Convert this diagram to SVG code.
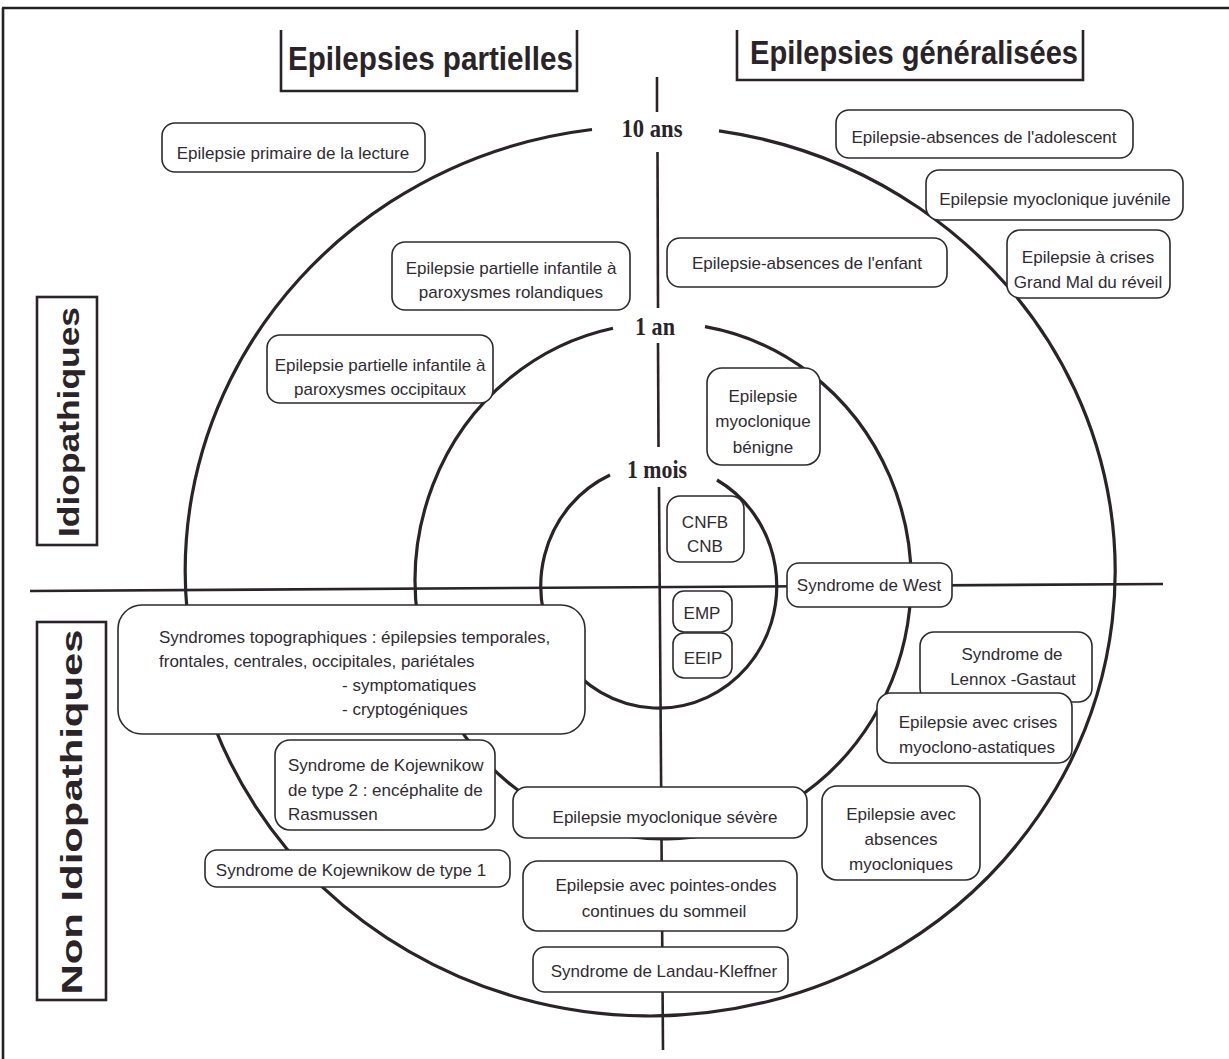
<svg xmlns="http://www.w3.org/2000/svg" width="1229" height="1059" viewBox="0 0 1229 1059">
<style>
.ring{fill:none;stroke:#2a2428;stroke-width:3.2}
.axis{fill:none;stroke:#2a2428;stroke-width:2.6}
.frame{fill:none;stroke:#222;stroke-width:2.6}
.box{fill:#fff;stroke:#2e2a2e;stroke-width:1.6}
.hdr{fill:none;stroke:#2a2428;stroke-width:2.6}
.t{font-family:"Liberation Sans",Arial,sans-serif;font-size:17px;fill:#2f2b33;text-anchor:middle}
.tl{font-family:"Liberation Sans",Arial,sans-serif;font-size:17px;fill:#2f2b33;text-anchor:start}
.h{font-family:"Liberation Sans",Arial,sans-serif;font-weight:bold;font-size:33px;fill:#2a2428}
.v{font-family:"Liberation Sans",Arial,sans-serif;font-weight:bold;font-size:30px;fill:#2a2428;text-anchor:middle}
.age{font-family:"Liberation Serif","Times New Roman",serif;font-weight:bold;font-size:25px;fill:#2a2428;text-anchor:middle}
</style>
<rect x="0" y="0" width="1229" height="1059" fill="#fff"/>
<g id="frame">
<line class="frame" x1="2" y1="8" x2="1229" y2="8"/>
<line class="frame" x1="3" y1="8" x2="3" y2="1059"/>
</g>
<g id="connectors">
<path class="ring" d="M592 129.5 A465 445 0 1 0 719 130.9"/>
<path class="ring" d="M613 328.3 A248 258 0 1 0 705 326.7"/>
<path class="ring" d="M610 475 A118 122 0 1 0 717 480"/>
<line class="axis" x1="657" y1="77" x2="657" y2="112"/>
<line class="axis" x1="657.5" y1="152" x2="658" y2="308"/>
<line class="axis" x1="658" y1="343" x2="658.5" y2="447"/>
<line class="axis" x1="659" y1="487" x2="663" y2="1050"/>
<line class="axis" x1="30" y1="591" x2="1163" y2="584"/>
</g>
<g id="ages">
<text class="age" x="652" y="137" textLength="61" lengthAdjust="spacingAndGlyphs">10 ans</text>
<text class="age" x="655" y="335" textLength="40" lengthAdjust="spacingAndGlyphs">1 an</text>
<text class="age" x="657" y="478" textLength="60" lengthAdjust="spacingAndGlyphs">1 mois</text>
</g>
<g id="hdr-partielles">
<path class="hdr" d="M281 30 V91 H577 V30"/>
<text class="h" x="288" y="70" textLength="285" lengthAdjust="spacingAndGlyphs">Epilepsies partielles</text>
</g>
<g id="hdr-generalisees">
<path class="hdr" d="M737 30 V80 H1083 V30"/>
<text class="h" x="750" y="64" textLength="328" lengthAdjust="spacingAndGlyphs">Epilepsies généralisées</text>
</g>
<g id="lbl-idiopathiques">
<rect class="hdr" x="37" y="297" width="60" height="248"/>
<text class="v" transform="translate(79 422) rotate(-90)" textLength="230" lengthAdjust="spacingAndGlyphs">Idiopathiques</text>
</g>
<g id="lbl-non-idiopathiques">
<rect class="hdr" x="37" y="622" width="69" height="378"/>
<text class="v" transform="translate(82 812) rotate(-90)" textLength="365" lengthAdjust="spacingAndGlyphs">Non Idiopathiques</text>
</g>
<g id="n-lecture"><rect class="box" x="162" y="123" width="263" height="49" rx="13"/><text class="t" x="293" y="159">Epilepsie primaire de la lecture</text></g>
<g id="n-adolescent"><rect class="box" x="836" y="110" width="297" height="48" rx="13"/><text class="t" x="984" y="143">Epilepsie-absences de l'adolescent</text></g>
<g id="n-juvenile"><rect class="box" x="926" y="170" width="257" height="50" rx="13"/><text class="t" x="1055" y="205">Epilepsie myoclonique juvénile</text></g>
<g id="n-grandmal"><rect class="box" x="1007" y="230" width="163" height="68" rx="13"/><text class="t" x="1088" y="263">Epilepsie à crises</text><text class="t" x="1088" y="288">Grand Mal du réveil</text></g>
<g id="n-enfant"><rect class="box" x="667" y="238" width="280" height="49" rx="13"/><text class="t" x="807" y="269">Epilepsie-absences de l'enfant</text></g>
<g id="n-rolandiques"><rect class="box" x="392" y="242" width="238" height="68" rx="13"/><text class="t" x="511" y="274">Epilepsie partielle infantile à</text><text class="t" x="511" y="298">paroxysmes rolandiques</text></g>
<g id="n-occipitaux"><rect class="box" x="267" y="335" width="226" height="68" rx="13"/><text class="t" x="380" y="371">Epilepsie partielle infantile à</text><text class="t" x="380" y="395">paroxysmes occipitaux</text></g>
<g id="n-benigne"><rect class="box" x="707" y="368" width="113" height="97" rx="15"/><text class="t" x="763" y="402">Epilepsie</text><text class="t" x="763" y="427">myoclonique</text><text class="t" x="763" y="453">bénigne</text></g>
<g id="n-cnfb"><rect class="box" x="667" y="496" width="77" height="66" rx="13"/><text class="t" x="705" y="528">CNFB</text><text class="t" x="705" y="552">CNB</text></g>
<g id="n-west"><rect class="box" x="787" y="563" width="165" height="44" rx="12"/><text class="t" x="869" y="591">Syndrome de West</text></g>
<g id="n-emp"><rect class="box" x="673" y="591" width="59" height="41" rx="11"/><text class="t" x="702" y="619">EMP</text></g>
<g id="n-eeip"><rect class="box" x="673" y="633" width="59" height="45" rx="11"/><text class="t" x="703" y="664">EEIP</text></g>
<g id="n-topographiques"><rect class="box" x="118" y="605" width="467" height="129" rx="24"/>
<text class="tl" x="159" y="643">Syndromes topographiques : épilepsies temporales,</text>
<text class="tl" x="159" y="667">frontales, centrales, occipitales, pariétales</text>
<text class="tl" x="342" y="691">- symptomatiques</text>
<text class="tl" x="342" y="715">- cryptogéniques</text></g>
<g id="n-lennox"><rect class="box" x="920" y="632" width="172" height="70" rx="14"/><text class="t" x="1012" y="660">Syndrome de</text><text class="t" x="1013" y="685">Lennox -Gastaut</text></g>
<g id="n-astatiques"><rect class="box" x="877" y="693" width="195" height="70" rx="14"/><text class="t" x="978" y="728">Epilepsie avec crises</text><text class="t" x="977" y="753">myoclono-astatiques</text></g>
<g id="n-absences-myo"><rect class="box" x="822" y="786" width="158" height="94" rx="15"/><text class="t" x="901" y="820">Epilepsie avec</text><text class="t" x="901" y="845">absences</text><text class="t" x="901" y="870">myocloniques</text></g>
<g id="n-kojewnikow2"><rect class="box" x="275" y="740" width="220" height="90" rx="15"/><text class="tl" x="288" y="771">Syndrome de Kojewnikow</text><text class="tl" x="288" y="796">de type 2 : encéphalite de</text><text class="tl" x="288" y="820">Rasmussen</text></g>
<g id="n-kojewnikow1"><rect class="box" x="205" y="850" width="305" height="37" rx="12"/><text class="t" x="351" y="876">Syndrome de Kojewnikow de type 1</text></g>
<g id="n-severe"><rect class="box" x="513" y="787" width="294" height="51" rx="14"/><text class="t" x="665" y="823">Epilepsie myoclonique sévère</text></g>
<g id="n-pointes-ondes"><rect class="box" x="523" y="861" width="274" height="70" rx="15"/><text class="t" x="666" y="891">Epilepsie avec pointes-ondes</text><text class="t" x="664" y="917">continues du sommeil</text></g>
<g id="n-landau"><rect class="box" x="533" y="947" width="255" height="45" rx="12"/><text class="t" x="664" y="977">Syndrome de Landau-Kleffner</text></g>
</svg>
